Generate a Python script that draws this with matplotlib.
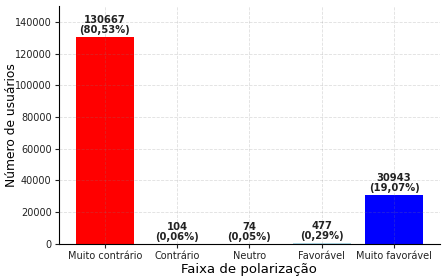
import matplotlib
matplotlib.use('Agg')
import matplotlib.pyplot as plt

# Dados
categorias = ['Muito contrário', 'Contrário', 'Neutro', 'Favorável', 'Muito favorável']
usuarios = [130667, 104, 74, 477, 30943]
percentuais = ['80,53%', '0,06%', '0,05%', '0,29%', '19,07%']
cores = ['red', 'lightcoral', 'gray', 'lightblue', 'blue']

fig, ax = plt.subplots(figsize=(4.47, 2.77), dpi=100)
barras = ax.bar(categorias, usuarios, color=cores, width=0.8)

# Rótulos acima das barras
for barra, valor, pct in zip(barras, usuarios, percentuais):
    ax.text(barra.get_x() + barra.get_width() / 2, barra.get_height() + 1000,
            f'{valor}\n({pct})', ha='center', va='bottom',
            fontsize=7.2, fontweight='bold', color='#222222', linespacing=1.05)

ax.set_ylim(0, max(usuarios) * 1.15)
ax.set_xlabel('Faixa de polarização', fontsize=9.5, labelpad=2)
ax.set_ylabel('Número de usuários', fontsize=8.8)
ax.yaxis.set_label_coords(-0.105, 0.5)
ax.tick_params(labelsize=7, colors='#222222', pad=2, length=3)
ax.spines['top'].set_visible(False)
ax.spines['right'].set_visible(False)
ax.grid(True, linestyle='--', color='gray', alpha=0.25, linewidth=0.6, zorder=3)
ax.set_axisbelow(False)

plt.subplots_adjust(left=0.131, right=0.985, top=0.98, bottom=0.12)
plt.savefig('out.png')
